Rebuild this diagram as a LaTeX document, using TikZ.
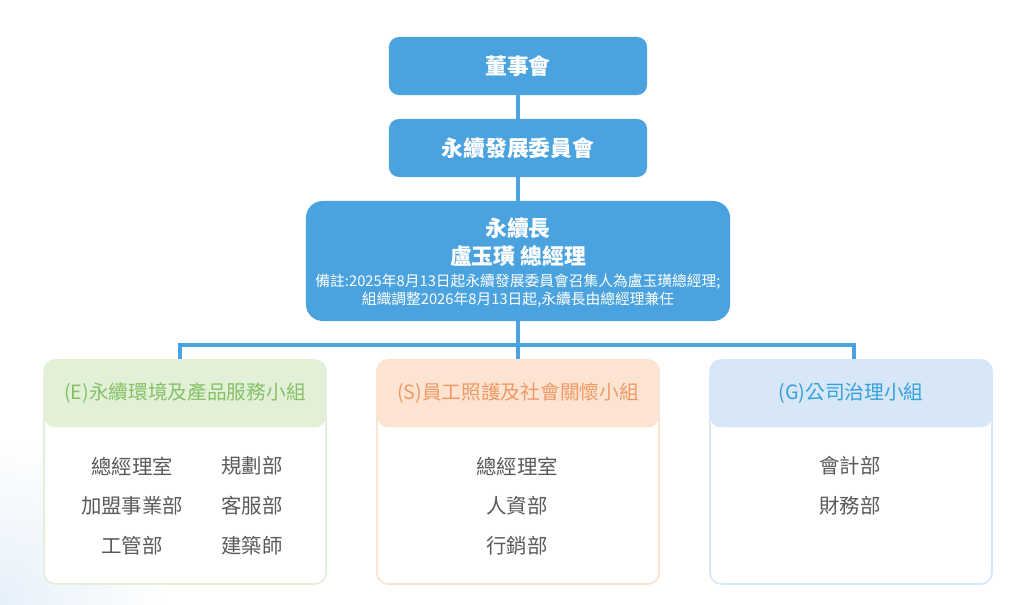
\documentclass[tikz,border=0pt]{standalone}
\usepackage{fontspec}
\setmainfont{Noto Sans CJK TC}
\definecolor{orgblue}{HTML}{4AA3DE}
\definecolor{egreen}{HTML}{E3F0D8}
\definecolor{egreentext}{HTML}{86C166}
\definecolor{speach}{HTML}{FDE3D2}
\definecolor{speachtext}{HTML}{EF9A66}
\definecolor{gblue}{HTML}{D8E7F7}
\definecolor{gbluetext}{HTML}{35A0DD}
\definecolor{deptgray}{HTML}{5A5A5A}
\definecolor{glow}{HTML}{E6F0FA}
\tikzstyle{bluebox}=[rectangle, rounded corners=7pt, fill=orgblue, text=white, font=\fontsize{15.5}{19}\selectfont\bfseries, minimum width=6.45cm, minimum height=1.45cm]
\tikzstyle{whitetext}=[text=white, inner sep=0pt, font=\fontsize{15.5}{19}\selectfont\bfseries]
\tikzstyle{note}=[text=white, inner sep=0pt, font=\fontsize{10.5}{12.5}\selectfont]
\tikzstyle{link}=[draw=orgblue, line width=2.2pt]
\tikzstyle{groupbox}=[rectangle, rounded corners=8pt, fill=white, line width=1.2pt, minimum width=7.05cm, minimum height=5.6cm]
\tikzstyle{grouphead}=[rectangle, rounded corners=8pt, minimum width=7.05cm, minimum height=1.7cm, font=\fontsize{14}{17}\selectfont]
\tikzstyle{dept}=[text=deptgray, font=\fontsize{14.5}{17}\selectfont]
\newcommand{\bluebox}{\node[bluebox]}
\newcommand{\dept}{\node[dept]}

\begin{document}
\begin{tikzpicture}[x=0.025cm, y=-0.025cm]
\useasboundingbox (0,0) rectangle (1024,604);
\shade[inner color=glow, outer color=white] (0,604) circle (170);
% top of the chart
\bluebox (board) at (518,66) {董事會};
\bluebox (comm) at (518,148) {永續發展委員會};
\node[bluebox, rounded corners=12pt, minimum width=10.6cm, minimum height=3cm] (chief) at (518,261) {};
\node[whitetext] (chieftitle) at (518,228) {永續長};
\node[whitetext] (chiefname) at (518,256) {盧玉璜 總經理};
\node[note] (note1) at (518,282) {備註:2025年8月13日起永續發展委員會召集人為盧玉璜總經理;};
\node[note] (note2) at (518,300) {組織調整2026年8月13日起,永續長由總經理兼任};
\coordinate (bus) at (518,345);

% the three groups
\node[groupbox, draw=egreen] (E) at (185,472) {};
\node[grouphead, fill=egreen, text=egreentext, anchor=north] (Ehead) at (E.north) {(E)永續環境及產品服務小組};
\node[groupbox, draw=speach] (S) at (518,472) {};
\node[grouphead, fill=speach, text=speachtext, anchor=north] (Shead) at (S.north) {(S)員工照護及社會關懷小組};
\node[groupbox, draw=gblue] (G) at (851,472) {};
\node[grouphead, fill=gblue, text=gbluetext, anchor=north] (Ghead) at (G.north) {(G)公司治理小組};

\draw[link] (board) -- (comm);
\draw[link] (comm) -- (chief);
\draw[link] (chief) -- (Shead.north);
\draw[link] ([xshift=-0.125cm]Ehead.north) |- (bus) -| ([xshift=0.075cm]Ghead.north);

% departments
\dept (e1) at (132,466) {總經理室};
\dept (e2) at (132,506) {加盟事業部};
\dept (e3) at (132,546) {工管部};
\dept (e4) at (252,466) {規劃部};
\dept (e5) at (252,506) {客服部};
\dept (e6) at (252,546) {建築師};
\dept (s1) at (517,466) {總經理室};
\dept (s2) at (517,506) {人資部};
\dept (s3) at (517,546) {行銷部};
\dept (g1) at (850,466) {會計部};
\dept (g2) at (850,506) {財務部};
\end{tikzpicture}
\end{document}
